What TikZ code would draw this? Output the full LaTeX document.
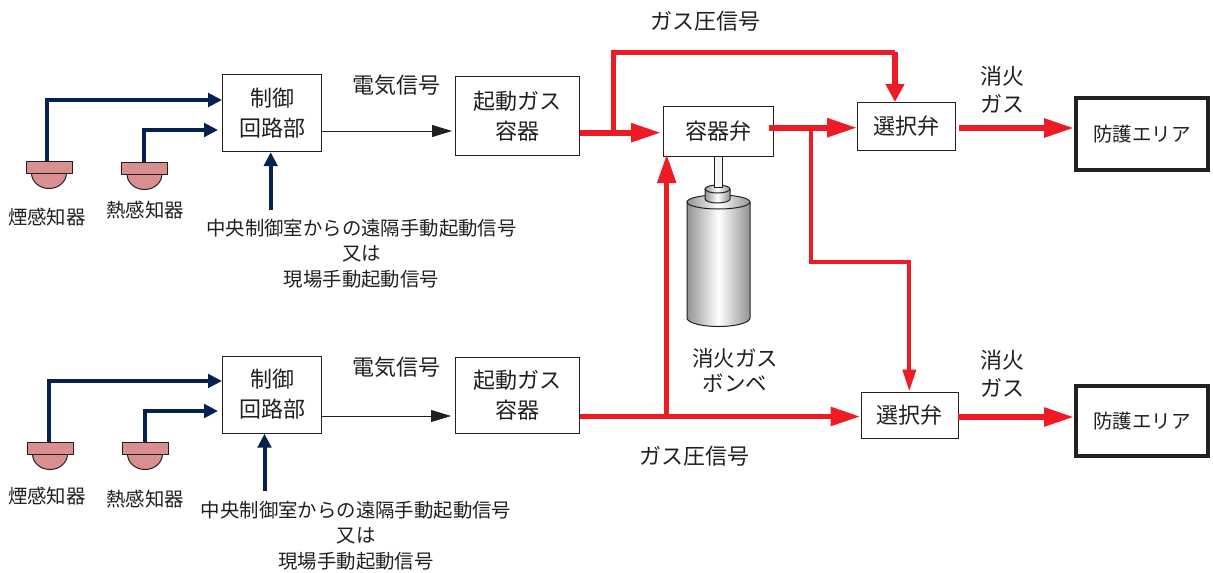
\documentclass[tikz,border=0pt]{standalone}
\usepackage{fontspec}
\setmainfont{Noto Sans CJK JP}
\definecolor{navyc}{HTML}{04214F}
\definecolor{redc}{HTML}{ED1C24}
\definecolor{pinkc}{HTML}{D98F8F}
\definecolor{edgec}{HTML}{231F20}
\usetikzlibrary{arrows.meta,calc}
\tikzset{
 box/.style={draw=edgec,line width=1.2pt,fill=white,anchor=north west,inner sep=0pt,align=center,text=edgec,font=\fontsize{22}{30}\selectfont},
 bigbox/.style={box,draw=edgec,line width=4pt,font=\fontsize{19.5}{25}\selectfont},
 lab/.style={inner sep=0pt,align=center,text=edgec,font=\fontsize{22}{28}\selectfont},
 lab2/.style={lab,font=\fontsize{21.5}{25}\selectfont},
 small/.style={inner sep=0pt,align=center,text=edgec,font=\fontsize{19.4}{25.5}\selectfont},
 navy/.style={draw=navyc,line width=4pt,-{Triangle[length=14pt,width=13.5pt,fill=navyc]}},
 thinarr/.style={draw=edgec,line width=0.9pt,-{Triangle[length=20pt,width=12pt,fill=edgec]}},
 redA/.style={draw=redc,line width=5.6pt,-{Triangle[length=30pt,width=18pt,fill=redc]}},
 redB/.style={draw=redc,line width=4pt,-{Triangle[length=22pt,width=13pt,fill=redc]}},
 redC/.style={draw=redc,line width=5.4pt,-{Triangle[length=18pt,width=18pt,fill=redc]}},
 redD/.style={draw=redc,line width=5.4pt,-{Triangle[length=29pt,width=18pt,fill=redc]}},
 sensorb/.style={draw=edgec,line width=1pt,fill=pinkc},
 steel/.style={left color=gray!85,right color=gray!85,middle color=white}
}
% centre x, top y, line x, name
\newcommand{\sensor}[4]{%
 \fill[pinkc] (#1-17.5,#2+12) arc[start angle=180,end angle=0,x radius=17.5,y radius=15.5] -- cycle;
 \draw[edgec,line width=1pt] (#1-17.5,#2+12) arc[start angle=180,end angle=0,x radius=17.5,y radius=15.5];
 \draw[sensorb] (#1-23,#2) rectangle (#1+23,#2+12);
 \coordinate (#4) at (#3,#2);
}
\begin{document}
\begin{tikzpicture}[x=1pt,y=-1pt]
\useasboundingbox (0,0) rectangle (1213,573);
% sensors
\sensor{49}{161}{47}{a1}
\sensor{144.5}{162}{144}{b1}
\sensor{50}{442}{48.5}{a2}
\sensor{145}{442}{144.7}{b2}
% cylinder
\shade[steel] (687,202) -- (750,202) -- (750,318) arc[start angle=0,end angle=180,x radius=31.5,y radius=8.5] -- cycle;
\draw[edgec,line width=1pt] (687,202) -- (687,318) arc[start angle=180,end angle=0,x radius=31.5,y radius=8.5] -- (750,202);
\draw[edgec,line width=1pt,steel] (718.5,202) ellipse[x radius=31.5,y radius=7];
\shade[steel] (705,189) -- (730,189) -- (730,199) arc[start angle=0,end angle=180,x radius=12.5,y radius=4] -- cycle;
\draw[edgec,line width=1pt] (705,189) -- (705,199) arc[start angle=180,end angle=0,x radius=12.5,y radius=4] -- (730,189);
\draw[edgec,line width=1pt,steel] (717.5,189) ellipse[x radius=12.5,y radius=4];
\draw[edgec,line width=1pt,fill=white!92!gray] (714.3,156) rectangle (722.7,187);
% boxes
\node[box,minimum width=99pt,minimum height=77pt] (c1) at (222,74) {制御\\回路部};
\node[box,minimum width=124pt,minimum height=79pt] (g1) at (455,76) {起動ガス\\容器};
\node[box,minimum width=110pt,minimum height=50pt] (v) at (663,106) {容器弁};
\node[box,minimum width=97.5pt,minimum height=48pt] (s1) at (857,102) {選択弁};
\node[bigbox,minimum width=132pt,minimum height=72pt] (p1) at (1074,96) {防護エリア};
\node[box,minimum width=99pt,minimum height=77pt] (c2) at (222,355.5) {制御\\回路部};
\node[box,minimum width=124pt,minimum height=76pt] (g2) at (455,357) {起動ガス\\容器};
\node[box,minimum width=97pt,minimum height=46pt] (s2) at (860.5,391.5) {選択弁};
\node[bigbox,minimum width=132pt,minimum height=70pt] (p2) at (1074,384) {防護エリア};
% navy
\coordinate (n1) at (47,100);
\coordinate (n2) at (144,130);
\coordinate (n3) at (48.5,381);
\coordinate (n4) at (144.7,411);
\draw[navy] (a1) -- (n1) -- (c1.west|-n1);
\draw[navy,shorten >=4pt] (b1) -- (n2) -- (c1.west|-n2);
\draw[navy] (a2) -- (n3) -- (c2.west|-n3);
\draw[navy,shorten >=4pt] (b2) -- (n4) -- (c2.west|-n4);
\coordinate (r1) at (270.7,210);
\coordinate (r2) at (264.5,491);
\draw[navy] (r1) -- (r1|-c1.south);
\draw[navy] (r2) -- (r2|-c2.south);
% thin
\coordinate (t1a) at (321,131);
\coordinate (t2a) at (321,416);
\draw[thinarr,shorten >=3pt] (c1.east|-t1a) -- (g1.west|-t1a);
\draw[thinarr,shorten >=4pt] (c2.east|-t2a) -- (g2.west|-t2a);
% red
\coordinate (j1) at (613,132.7);
\coordinate (j1t) at (613,52);
\coordinate (t1) at (895,52);
\draw[redA,shorten >=2pt] (g1.east|-j1) -- (v.west|-j1);
\draw[draw=redc,line width=5pt] (j1) -- (j1t) -- (t1);
\draw[redC] (t1) -- (t1|-s1.north);
\coordinate (o1) at (769,127.7);
\draw[redA] (o1) -- (s1.west|-o1);
\coordinate (d1) at (810.7,130);
\coordinate (d2) at (810.7,262);
\coordinate (d3) at (909.3,262);
\draw[redB] (d1) -- (d2) -- (d3) -- (d3|-s2.north);
\coordinate (u1) at (666.7,416.5);
\draw[redD,shorten >=-3pt] (u1) -- (u1|-v.south);
\coordinate (h2) at (579,416.5);
\draw[redA] (g2.east|-h2) -- (s2.west|-h2);
\coordinate (e1) at (958.5,128);
\coordinate (e2) at (958,417);
\draw[redA] (e1) -- (p1.west|-e1);
\draw[redA] (e2) -- (p2.west|-e2);
% labels
\node[small] (l1) at (47,217) {煙感知器};
\node[small] (l2) at (145,210) {熱感知器};
\node[small] (l3) at (47,496) {煙感知器};
\node[small] (l4) at (145,499) {熱感知器};
\node[small] (l5) at (361.5,253.5) {中央制御室からの遠隔手動起動信号\\又は\\現場手動起動信号};
\node[small] (l6) at (356,535.5) {中央制御室からの遠隔手動起動信号\\又は\\現場手動起動信号};
\node[lab] (l7) at (396,85) {電気信号};
\node[lab] (l8) at (396,367) {電気信号};
\node[lab] (l9) at (705,21) {ガス圧信号};
\node[lab] (l10) at (694,456.5) {ガス圧信号};
\node[lab] (l11) at (1002,90) {消火\\ガス};
\node[lab] (l12) at (1002,374) {消火\\ガス};
\node[lab2] (l13) at (735,370.5) {消火ガス\\ボンベ};
\end{tikzpicture}
\end{document}
